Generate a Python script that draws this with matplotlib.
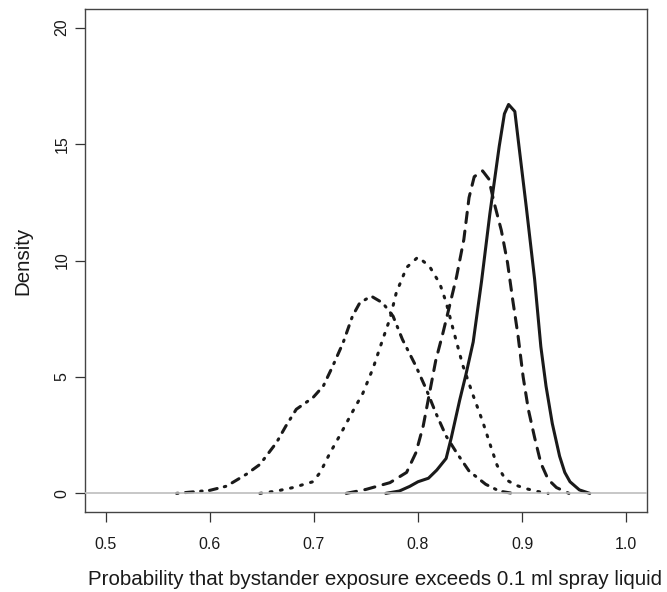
import numpy as np
import matplotlib
matplotlib.use("Agg")
import matplotlib.pyplot as plt

plt.rcParams['font.family'] = ['Liberation Sans', 'DejaVu Sans']

# density curves (x = probability, y = density)
solid_x = [0.769, 0.782, 0.792, 0.800, 0.810, 0.818, 0.827, 0.832, 0.840, 0.846,
           0.853, 0.861, 0.869, 0.878, 0.883, 0.887, 0.893, 0.897, 0.904, 0.912,
           0.918, 0.923, 0.929, 0.936, 0.941, 0.946, 0.955, 0.965]
solid_y = [0.0, 0.1, 0.3, 0.5, 0.65, 1.0, 1.5, 2.4, 4.0, 5.1,
           6.5, 9.1, 12.0, 14.9, 16.3, 16.7, 16.4, 14.9, 12.3, 9.2,
           6.3, 4.6, 3.0, 1.6, 0.9, 0.5, 0.15, 0.0]

dashed_x = [0.731, 0.750, 0.773, 0.789, 0.798, 0.805, 0.811, 0.817, 0.824, 0.830,
            0.837, 0.844, 0.849, 0.854, 0.862, 0.868, 0.873, 0.880, 0.886, 0.891,
            0.896, 0.901, 0.906, 0.912, 0.918, 0.925, 0.933, 0.945]
dashed_y = [0.0, 0.17, 0.46, 0.9, 1.75, 2.9, 4.3, 5.7, 6.9, 8.0,
            9.3, 10.9, 12.7, 13.6, 13.85, 13.5, 12.5, 11.3, 9.9, 8.3,
            6.8, 5.0, 3.6, 2.4, 1.3, 0.6, 0.25, 0.0]

dotted_x = [0.648, 0.664, 0.680, 0.699, 0.706, 0.715, 0.725, 0.737, 0.747, 0.757,
            0.766, 0.773, 0.779, 0.789, 0.800, 0.811, 0.821, 0.827, 0.834, 0.843,
            0.853, 0.862, 0.870, 0.876, 0.884, 0.894, 0.904, 0.915, 0.925]
dotted_y = [0.0, 0.1, 0.25, 0.5, 0.9, 1.7, 2.5, 3.5, 4.3, 5.4,
            6.6, 7.5, 8.6, 9.7, 10.15, 9.75, 9.0, 8.2, 7.0, 5.5,
            4.2, 3.1, 2.0, 1.2, 0.6, 0.35, 0.2, 0.08, 0.0]

dotdash_x = [0.568, 0.600, 0.616, 0.635, 0.648, 0.664, 0.673, 0.683, 0.699, 0.709,
             0.718, 0.728, 0.737, 0.744, 0.755, 0.766, 0.776, 0.785, 0.798, 0.808,
             0.817, 0.827, 0.837, 0.849, 0.865, 0.878, 0.891]
dotdash_y = [0.0, 0.13, 0.31, 0.82, 1.24, 2.18, 2.89, 3.61, 4.11, 4.61,
             5.46, 6.47, 7.61, 8.18, 8.47, 8.18, 7.61, 6.61, 5.46, 4.46,
             3.46, 2.46, 1.75, 0.96, 0.39, 0.10, 0.0]

x_ticks = [0.5, 0.6, 0.7, 0.8, 0.9, 1.0]
x_labels = ["0.5", "0.6", "0.7", "0.8", "0.9", "1.0"]
y_ticks = [0, 5, 10, 15, 20]
y_labels = ["0", "5", "10", "15", "20"]

fig = plt.figure(figsize=(6.67, 5.92), dpi=100)
ax = fig.add_axes([85 / 667, 1 - 512 / 592, (647 - 85) / 667, (512 - 9) / 592])

lw = 2.2
col = "#1a1a1a"
ax.plot(solid_x, solid_y, color=col, lw=lw, solid_capstyle="round",
        solid_joinstyle="round")
ax.plot(dashed_x, dashed_y, color=col, lw=lw, linestyle=(0, (3.4, 2.8)),
        dash_capstyle="round", dash_joinstyle="round")
ax.plot(dotted_x, dotted_y, color=col, lw=lw, linestyle=(0, (0.6, 2.8)),
        dash_capstyle="round", dash_joinstyle="round")
ax.plot(dotdash_x, dotdash_y, color=col, lw=lw, linestyle=(0, (0.5, 2.4, 2.6, 2.4)),
        dash_capstyle="round", dash_joinstyle="round")
ax.axhline(0, color="#bebebe", lw=1.2, zorder=3)

ax.set_xlim(0.48, 1.02)
ax.set_ylim(-0.8, 20.8)
ax.set_xticks(x_ticks)
ax.set_xticklabels(x_labels)
ax.set_yticks(y_ticks)
ax.set_yticklabels(y_labels, rotation=90, va="center")

ax.tick_params(axis="both", direction="out", length=7.2, width=0.9, colors="#333333",
               labelsize=11.5, labelcolor="#1a1a1a")
ax.tick_params(axis="x", pad=11)
ax.tick_params(axis="y", pad=4)
for s in ax.spines.values():
    s.set_color("#444444")
    s.set_linewidth(1.0)

ax.set_xlabel("Probability that bystander exposure exceeds 0.1 ml spray liquid",
              fontsize=14.8, color="#1a1a1a")
ax.xaxis.set_label_coords(0.516, -0.115)
ax.set_ylabel("Density", fontsize=14.8, color="#1a1a1a", labelpad=16)

fig.savefig("out.png", dpi=100)
